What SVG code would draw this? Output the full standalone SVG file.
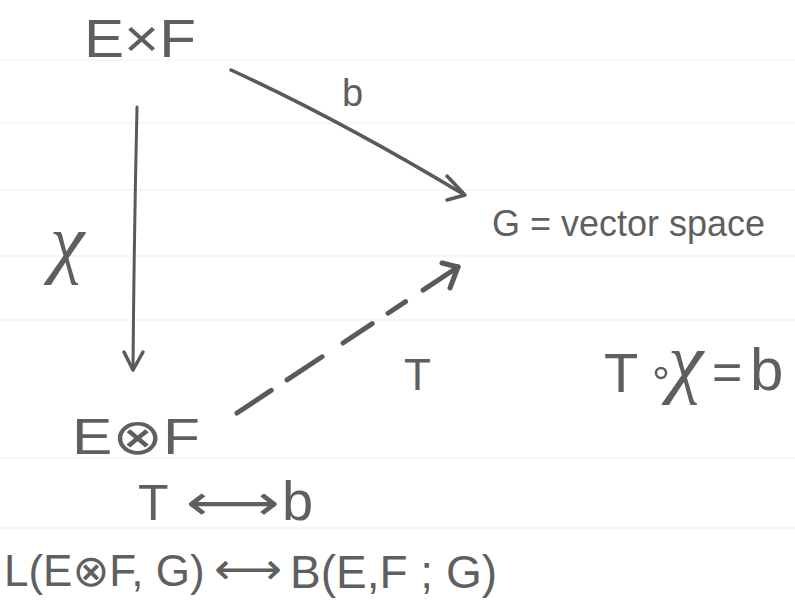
<svg xmlns="http://www.w3.org/2000/svg" width="795" height="600" viewBox="0 0 795 600">
<style>
.t{font-family:"Liberation Sans","DejaVu Sans",sans-serif;fill:#5f5f5f;}
.a{font-family:"DejaVu Sans",sans-serif;fill:#5f5f5f;}
.x{font-family:"Liberation Serif",serif;font-style:italic;fill:#5f5f5f;}
.c{fill:none;stroke:#5a5a5a;stroke-linecap:round;stroke-linejoin:round;}
.rule{stroke:#f7f7f7;stroke-width:2;}
</style>
<rect width="795" height="600" fill="#ffffff"/>
<g id="rules">
<line class="rule" x1="0" y1="60" x2="795" y2="60"/>
<line class="rule" x1="0" y1="123" x2="795" y2="123"/>
<line class="rule" x1="0" y1="190" x2="795" y2="190"/>
<line class="rule" x1="0" y1="256" x2="795" y2="256"/>
<line class="rule" x1="0" y1="320" x2="795" y2="320"/>
<line class="rule" x1="0" y1="458" x2="795" y2="458"/>
<line class="rule" x1="0" y1="528" x2="795" y2="528"/>
</g>
<g id="node-ExF"><text class="t" x="84" y="57" font-size="54" textLength="112" lengthAdjust="spacingAndGlyphs">E×F</text></g>
<g id="node-G"><text class="t" x="492" y="236" font-size="36">G = vector space</text></g>
<g id="node-EtF"><text class="t" x="72" y="454" font-size="50" textLength="128" lengthAdjust="spacingAndGlyphs">E⊗F</text></g>
<g id="connectors">
<path class="c" stroke-width="3.5" d="M231,70 Q340,120 463,194"/>
<polyline class="c" stroke-width="3.5" points="447,176 465,195 447,200"/>
<path class="c" stroke-width="3" d="M137,107 Q134,240 133,370"/>
<polyline class="c" stroke-width="3.5" points="124,352 133,370 143,352"/>
<line class="c" stroke-width="5" x1="237" y1="413" x2="458" y2="267" stroke-dasharray="41 19 42 25 35 19 21 21 60"/>
<polyline class="c" stroke-width="5" points="442,263 458,267 450,288"/>
</g>
<g id="labels">
<text class="t" x="342" y="106" font-size="38">b</text>
<text class="x" x="50" y="268" font-size="78">χ</text>
<text class="t" x="404" y="390" font-size="44">T</text>
</g>
<g id="equation">
<text class="t" x="604" y="392" font-size="56">T</text>
<circle cx="661" cy="373" r="5" fill="none" stroke="#5f5f5f" stroke-width="2.5"/>
<text class="x" x="668" y="388" font-size="80">χ</text>
<text class="t" x="712" y="390" font-size="52">=</text>
<text class="t" x="750" y="390" font-size="60">b</text>
</g>
<g id="correspondence">
<text class="t" x="138" y="520" font-size="50">T</text>
<text class="a" x="186" y="520" font-size="50" textLength="94" lengthAdjust="spacingAndGlyphs">⟷</text>
<text class="t" x="282" y="520" font-size="56">b</text>
<text class="t" x="4" y="586" font-size="44">L(E⊗F, G)</text>
<text class="a" x="214" y="584" font-size="44" textLength="68" lengthAdjust="spacingAndGlyphs">⟷</text>
<text class="t" x="290" y="588" font-size="46">B(E,F ; G)</text>
</g>
</svg>
